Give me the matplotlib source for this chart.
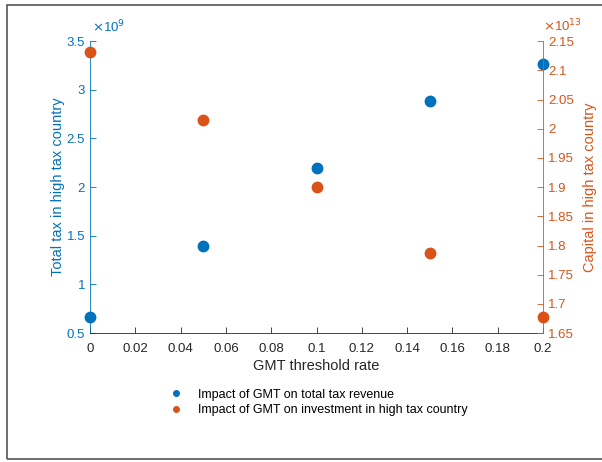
import numpy as np
import matplotlib.pyplot as plt
from matplotlib.patches import Rectangle
from matplotlib.lines import Line2D

plt.rcParams['font.family'] = ['Liberation Sans', 'DejaVu Sans']

# --------------------------------------------------------
# DATA
# --------------------------------------------------------
gmt_rate = [0, 0.05, 0.1, 0.15, 0.2]
total_tax = [0.67e9, 1.40e9, 2.20e9, 2.88e9, 3.26e9]
capital = [2.131e13, 2.015e13, 1.900e13, 1.788e13, 1.678e13]

blue = '#0072BD'
orange = '#D95319'
gray = '#262626'

# --------------------------------------------------------
# PLOT
# --------------------------------------------------------
fig = plt.figure(figsize=(6.02, 4.62), dpi=100)
ax = fig.add_axes([0.1495, 0.279, 0.7525, 0.632])
ax2 = ax.twinx()

ax.plot(gmt_rate, total_tax, 'o', color=blue, ms=7.5, clip_on=False, zorder=5)
ax2.plot(gmt_rate, capital, 'o', color=orange, ms=7.5, clip_on=False, zorder=5)

ax.set_xlim(0, 0.2)
ax.set_ylim(0.5e9, 3.5e9)
ax2.set_ylim(1.65e13, 2.15e13)

ax.set_xticks(np.arange(0, 0.201, 0.02))
ax.set_xticklabels(['0', '0.02', '0.04', '0.06', '0.08', '0.1', '0.12',
                    '0.14', '0.16', '0.18', '0.2'])
ax.set_yticks(np.arange(0.5e9, 3.51e9, 0.5e9))
ax.set_yticklabels(['0.5', '1', '1.5', '2', '2.5', '3', '3.5'])
ax2.set_yticks(np.arange(1.65e13, 2.151e13, 0.05e13))
ax2.set_yticklabels(['1.65', '1.7', '1.75', '1.8', '1.85', '1.9', '1.95',
                     '2', '2.05', '2.1', '2.15'])

fs = 9.5
for a in (ax, ax2):
    a.spines['top'].set_visible(False)
    a.tick_params(direction='in', length=4, width=0.6, labelsize=fs)
ax.spines['left'].set_color(blue)
ax.spines['right'].set_visible(False)
ax2.spines['left'].set_visible(False)
ax2.spines['right'].set_color(orange)
ax.spines['bottom'].set_color(gray)
ax2.spines['bottom'].set_visible(False)
for s in ('left', 'bottom'):
    ax.spines[s].set_linewidth(0.6)
ax2.spines['right'].set_linewidth(0.6)

ax.tick_params(axis='y', colors=blue)
ax.tick_params(axis='x', colors=gray, pad=7)
ax2.tick_params(axis='y', colors=orange)

ax.set_xlabel('GMT threshold rate', fontsize=10.5, color=gray, labelpad=3)
ax.set_ylabel('Total tax in high tax country', fontsize=10.5, color=blue, labelpad=1)
ax2.set_ylabel('Capital in high tax country', fontsize=10.5, color=orange, labelpad=7)

# exponent labels (MATLAB style)
ax.text(0.005, 1.02, r'$\times$10$^{9}$', transform=ax.transAxes, fontsize=fs,
        color=blue, ha='left', va='bottom')
ax2.text(1.0, 1.025, r'$\times$10$^{13}$', transform=ax2.transAxes, fontsize=fs,
         color=orange, ha='left', va='bottom')

# legend below
handles = [Line2D([], [], ls='none', marker='o', color=blue, ms=4),
           Line2D([], [], ls='none', marker='o', color=orange, ms=4)]
labels = ['Impact of GMT on total tax revenue',
          'Impact of GMT on investment in high tax country']
fig.legend(handles, labels, loc='upper left', bbox_to_anchor=(0.27, 0.172),
           frameon=False, fontsize=9, handlelength=1.2, handletextpad=1.1,
           labelspacing=0.25, borderpad=0)

# figure frame
fig.patches.append(Rectangle((7 / 602, 3 / 462), 1.0, 454 / 462,
                             transform=fig.transFigure, fill=False,
                             edgecolor='#555555', lw=1.2))

fig.savefig('out.png', dpi=100)
